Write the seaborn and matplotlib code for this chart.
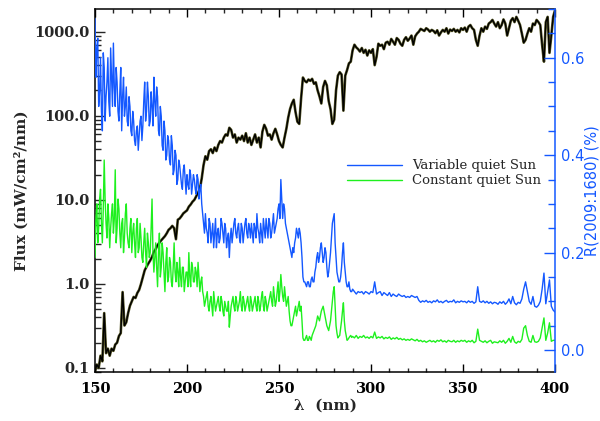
import numpy as np
import pandas as pd
import matplotlib
matplotlib.use("Agg")
import matplotlib.pyplot as plt
import seaborn as sns
from matplotlib.ticker import FixedLocator, MultipleLocator, LogLocator, NullFormatter

sns.set_style("ticks")
plt.rcParams['font.family'] = ['DejaVu Serif']

# wavelength grid (nm), 1 nm steps
wavelength = np.arange(150, 401)
# extra half-nm samples in the noisy short-wave part
wavelength_half = np.arange(150.5, 290.0, 1.0)

# solar flux (mW/cm^2/nm)
flux = [
    0.09, 0.11, 0.10, 0.14, 0.12, 0.45, 0.15, 0.17, 0.14, 0.17,
    0.16, 0.19, 0.20, 0.24, 0.26, 0.80, 0.32, 0.35, 0.45, 0.55,
    0.62, 0.70, 0.68, 0.78, 0.85, 1.00, 1.20, 1.45, 1.60, 1.75,
    1.90, 2.10, 2.40, 2.60, 2.90, 3.10, 3.30, 3.50, 3.70, 4.00,
    4.40, 4.60, 4.90, 4.60, 3.40, 5.80, 6.00, 6.40, 6.90, 7.20,
    7.50, 8.30, 8.80, 9.50, 10.0, 11.0, 12.2, 13.5, 18.0, 26.0,
    33, 30, 38, 40, 36, 42, 38, 45, 50, 48,
    55, 60, 58, 72, 68, 55, 60, 48, 55, 52,
    58, 50, 62, 48, 55, 45, 52, 60, 48, 55,
    42, 65, 78, 70, 58, 60, 52, 62, 70, 60,
    50, 45, 42, 55, 70, 95, 120, 140, 155, 110,
    85, 80, 160, 285, 260, 250, 270, 260, 275, 240,
    250, 200, 170, 140, 220, 260, 230, 150, 120, 80,
    90, 200, 300, 330, 310, 115, 300, 350, 420, 440,
    600, 700, 650, 620, 580, 640, 560, 610, 520, 600,
    560, 620, 400, 500, 720, 680, 700, 620, 740, 760,
    700, 820, 760, 700, 840, 800, 720, 680, 800, 860,
    780, 830, 900, 700, 880, 950, 1000, 1080, 1050, 1020,
    1100, 1060, 1000, 1050, 1020, 960, 1040, 900, 980, 1050,
    1000, 1100, 950, 1060, 1020, 1080, 1000, 1050, 980, 1100,
    1050, 1120, 1000, 1150, 1200, 1100, 1050, 800, 680, 900,
    1100, 1000, 1150, 1080, 1250, 1300, 1380, 1250, 1150, 1300,
    1100, 1200, 1400, 1250, 900, 1100, 1350, 1450, 1300, 1500,
    1350, 1200, 950, 740, 800, 950, 1100, 1000, 1250, 1200,
    1380, 1300, 1200, 700, 440, 1300, 1500, 560, 900, 1500,
    1800,
]

# R(2009:1680) (%), variable quiet Sun, at whole nm
variable_qs = [
    0.68, 0.62, 0.50, 0.60, 0.45, 0.58, 0.52, 0.60, 0.48, 0.56,
    0.63, 0.50, 0.55, 0.47, 0.58, 0.52, 0.48, 0.54, 0.46, 0.50,
    0.44, 0.47, 0.42, 0.46, 0.44, 0.48, 0.46, 0.55, 0.49, 0.52,
    0.47, 0.50, 0.56, 0.48, 0.52, 0.44, 0.48, 0.41, 0.45, 0.40,
    0.43, 0.38, 0.42, 0.37, 0.40, 0.35, 0.38, 0.34, 0.37, 0.35,
    0.36, 0.33, 0.36, 0.34, 0.35, 0.32, 0.35, 0.33, 0.30, 0.26,
    0.28, 0.24, 0.27, 0.22, 0.26, 0.24, 0.21, 0.25, 0.23, 0.26,
    0.22, 0.25, 0.23, 0.19, 0.25, 0.24, 0.27, 0.23, 0.26, 0.22,
    0.25, 0.24, 0.27, 0.23, 0.25, 0.26, 0.22, 0.25, 0.28, 0.24,
    0.26, 0.22, 0.25, 0.27, 0.23, 0.26, 0.24, 0.28, 0.25, 0.27,
    0.30, 0.35, 0.27, 0.29, 0.25, 0.23, 0.21, 0.19, 0.20, 0.23,
    0.24, 0.25, 0.22, 0.15, 0.14, 0.13, 0.14, 0.13, 0.15, 0.14,
    0.17, 0.20, 0.19, 0.22, 0.18, 0.21, 0.17, 0.16, 0.20, 0.26,
    0.28, 0.19, 0.15, 0.14, 0.17, 0.22, 0.16, 0.13, 0.14, 0.12,
    0.125, 0.12, 0.115, 0.12, 0.118, 0.12, 0.115, 0.12, 0.118, 0.115,
    0.12, 0.118, 0.14, 0.115, 0.118, 0.12, 0.112, 0.118, 0.115, 0.112,
    0.118, 0.11, 0.115, 0.112, 0.11, 0.115, 0.112, 0.11, 0.112, 0.108,
    0.11, 0.108, 0.112, 0.11, 0.108, 0.11, 0.102, 0.098, 0.101, 0.099,
    0.102, 0.098, 0.1, 0.097, 0.101, 0.099, 0.103, 0.098, 0.1, 0.097,
    0.1, 0.102, 0.098, 0.1, 0.099, 0.103, 0.097, 0.1, 0.098, 0.101,
    0.099, 0.1, 0.097, 0.101, 0.098, 0.1, 0.096, 0.099, 0.13, 0.1,
    0.098, 0.101, 0.097, 0.1, 0.096, 0.099, 0.095, 0.098, 0.097, 0.094,
    0.099, 0.096, 0.1, 0.094, 0.098, 0.105, 0.095, 0.11, 0.097, 0.093,
    0.098, 0.096, 0.105, 0.125, 0.14, 0.12, 0.1, 0.094, 0.11, 0.09,
    0.088, 0.092, 0.1, 0.125, 0.158, 0.095, 0.12, 0.144, 0.09, 0.082,
    0.078,
]

# variable quiet Sun, half-nm samples 150.5 ... 289.5
variable_qs_half = [
    0.56, 0.64, 0.53, 0.49, 0.61, 0.47, 0.55, 0.51, 0.62, 0.50,
    0.54, 0.58, 0.49, 0.53, 0.45, 0.56, 0.50, 0.47, 0.52, 0.45,
    0.49, 0.43, 0.45, 0.41, 0.47, 0.43, 0.51, 0.47, 0.55, 0.46,
    0.53, 0.46, 0.51, 0.54, 0.45, 0.50, 0.42, 0.47, 0.39, 0.44,
    0.39, 0.44, 0.36, 0.41, 0.34, 0.39, 0.36, 0.33, 0.38, 0.32,
    0.34, 0.37, 0.32, 0.36, 0.33, 0.36, 0.31, 0.34, 0.28, 0.24,
    0.25, 0.22, 0.26, 0.24, 0.21, 0.27, 0.24, 0.22, 0.27, 0.24,
    0.26, 0.21, 0.24, 0.23, 0.22, 0.26, 0.24, 0.25, 0.23, 0.26,
    0.22, 0.26, 0.24, 0.26, 0.23, 0.24, 0.26, 0.23, 0.25, 0.22,
    0.24, 0.27, 0.23, 0.25, 0.27, 0.23, 0.26, 0.24, 0.26, 0.29,
    0.27, 0.31, 0.30, 0.26, 0.24, 0.22, 0.20, 0.21, 0.22, 0.25,
    0.23, 0.24, 0.19, 0.14, 0.135, 0.14, 0.13, 0.145, 0.14, 0.16,
    0.19, 0.18, 0.21, 0.20, 0.19, 0.20, 0.15, 0.18, 0.23, 0.27,
    0.22, 0.16, 0.14, 0.15, 0.20, 0.18, 0.14, 0.13, 0.125, 0.12,
]

# R(2009:1680) (%), constant quiet Sun, at whole nm
constant_qs = [
    0.19, 0.30, 0.25, 0.33, 0.22, 0.39, 0.26, 0.30, 0.21, 0.28,
    0.24, 0.37, 0.25, 0.29, 0.21, 0.27, 0.23, 0.30, 0.22, 0.25,
    0.20, 0.26, 0.19, 0.27, 0.21, 0.23, 0.18, 0.25, 0.17, 0.22,
    0.20, 0.31, 0.16, 0.22, 0.13, 0.24, 0.17, 0.20, 0.12, 0.21,
    0.15, 0.18, 0.13, 0.22, 0.14, 0.16, 0.19, 0.13, 0.17, 0.14,
    0.16, 0.20, 0.13, 0.17, 0.14, 0.16, 0.18, 0.12, 0.15, 0.11,
    0.10, 0.12, 0.08, 0.11, 0.07, 0.10, 0.09, 0.11, 0.08, 0.10,
    0.07, 0.09, 0.08, 0.047, 0.09, 0.11, 0.08, 0.10, 0.09, 0.12,
    0.08, 0.10, 0.09, 0.11, 0.08, 0.10, 0.09, 0.11, 0.08, 0.10,
    0.09, 0.12, 0.08, 0.10, 0.09, 0.11, 0.10, 0.13, 0.09, 0.12,
    0.10, 0.155, 0.11, 0.13, 0.09, 0.11, 0.06, 0.05, 0.07, 0.09,
    0.08, 0.10, 0.09, 0.025, 0.02, 0.03, 0.02, 0.025, 0.03, 0.04,
    0.05, 0.07, 0.06, 0.08, 0.09, 0.07, 0.05, 0.04, 0.06, 0.10,
    0.13, 0.05, 0.025, 0.03, 0.06, 0.097, 0.04, 0.02, 0.025, 0.03,
    0.028, 0.025, 0.03, 0.024, 0.028, 0.026, 0.03, 0.025, 0.027, 0.024,
    0.028, 0.025, 0.037, 0.024, 0.027, 0.025, 0.028, 0.023, 0.026, 0.024,
    0.027, 0.022, 0.025, 0.023, 0.026, 0.022, 0.024, 0.021, 0.023, 0.02,
    0.022, 0.02, 0.023, 0.021, 0.019, 0.022, 0.018, 0.02, 0.017, 0.019,
    0.016, 0.018, 0.02, 0.017, 0.019, 0.016, 0.02, 0.018, 0.021, 0.017,
    0.019, 0.016, 0.02, 0.018, 0.017, 0.02, 0.016, 0.019, 0.017, 0.02,
    0.018, 0.02, 0.016, 0.019, 0.017, 0.02, 0.015, 0.018, 0.043, 0.02,
    0.018, 0.016, 0.019, 0.015, 0.018, 0.02, 0.014, 0.017, 0.016, 0.015,
    0.019, 0.016, 0.02, 0.014, 0.018, 0.024, 0.016, 0.028, 0.017, 0.014,
    0.018, 0.016, 0.022, 0.045, 0.05, 0.03, 0.018, 0.016, 0.03, 0.017,
    0.016, 0.018, 0.025, 0.045, 0.066, 0.02, 0.035, 0.056, 0.018, 0.02,
    0.02,
]

# constant quiet Sun, half-nm samples 150.5 ... 289.5
constant_qs_half = [
    0.27, 0.22, 0.31, 0.26, 0.29, 0.31, 0.23, 0.27, 0.25, 0.30,
    0.27, 0.22, 0.31, 0.24, 0.26, 0.20, 0.28, 0.24, 0.21, 0.27,
    0.24, 0.22, 0.25, 0.20, 0.26, 0.19, 0.22, 0.20, 0.24, 0.19,
    0.25, 0.20, 0.19, 0.17, 0.20, 0.15, 0.22, 0.16, 0.18, 0.14,
    0.19, 0.14, 0.17, 0.16, 0.18, 0.13, 0.15, 0.17, 0.12, 0.16,
    0.13, 0.15, 0.18, 0.14, 0.17, 0.13, 0.15, 0.14, 0.12, 0.09,
    0.11, 0.09, 0.10, 0.09, 0.12, 0.08, 0.10, 0.09, 0.11, 0.08,
    0.10, 0.08, 0.10, 0.07, 0.10, 0.09, 0.11, 0.08, 0.10, 0.09,
    0.11, 0.08, 0.10, 0.09, 0.11, 0.08, 0.10, 0.09, 0.11, 0.08,
    0.11, 0.09, 0.11, 0.08, 0.10, 0.12, 0.09, 0.11, 0.10, 0.14,
    0.12, 0.13, 0.10, 0.11, 0.10, 0.08, 0.05, 0.06, 0.08, 0.07,
    0.09, 0.08, 0.06, 0.02, 0.025, 0.02, 0.028, 0.02, 0.035, 0.045,
    0.06, 0.065, 0.07, 0.085, 0.08, 0.06, 0.045, 0.05, 0.08, 0.12,
    0.09, 0.035, 0.028, 0.045, 0.08, 0.06, 0.03, 0.022, 0.028, 0.026,
]

series_labels = ["Variable quiet Sun", "Constant quiet Sun"]
x_ticks = [150, 200, 250, 300, 350, 400]
left_ticks = [0.1, 1.0, 10.0, 100.0, 1000.0]
right_ticks = [0.0, 0.2, 0.4, 0.6]

df_flux = pd.DataFrame({"wl": wavelength, "flux": flux})
df_r = pd.concat([
    pd.DataFrame({"wl": wavelength, "var": variable_qs, "const": constant_qs}),
    pd.DataFrame({"wl": wavelength_half, "var": variable_qs_half, "const": constant_qs_half}),
]).sort_values("wl").reset_index(drop=True)

BLUE = "#1458ff"
GREEN = "#1ef01e"

fig = plt.figure(figsize=(6.0, 4.21), dpi=100)
ax = fig.add_axes([95/600, 1 - 372/421, 460/600, 363/421])

sns.lineplot(data=df_flux, x="wl", y="flux", ax=ax, color="#5a5a28", lw=1.9,
             estimator=None)
sns.lineplot(data=df_flux, x="wl", y="flux", ax=ax, color="black", lw=1.0,
             estimator=None)
ax.set_yscale("log")
ax.set_xlim(150, 400)
ax.set_ylim(0.0896, 1862)

ax2 = ax.twinx()
sns.lineplot(data=df_r, x="wl", y="var", ax=ax2, color=BLUE, lw=1.0,
             estimator=None, label=series_labels[0])
sns.lineplot(data=df_r, x="wl", y="const", ax=ax2, color=GREEN, lw=1.0,
             estimator=None, label=series_labels[1])
ax2.set_ylim(-0.045, 0.70)
ax2.set_xlim(150, 400)

serif_bold = dict(family="DejaVu Serif", weight="bold", size=10.5)

# x axis
ax.xaxis.set_major_locator(FixedLocator(x_ticks))
ax.xaxis.set_minor_locator(MultipleLocator(10))
ax.set_xticklabels([str(v) for v in x_ticks], fontdict=serif_bold)
ax.tick_params(axis="x", which="major", direction="in", length=6, width=1,
               top=True, bottom=True, pad=7, colors="black")
ax.tick_params(axis="x", which="minor", direction="in", length=3, width=1,
               top=True, bottom=True)

# left y axis
ax.yaxis.set_major_locator(FixedLocator(left_ticks))
ax.yaxis.set_minor_locator(LogLocator(base=10, subs=np.arange(2, 10)))
ax.yaxis.set_minor_formatter(NullFormatter())
ax.set_yticklabels([f"{v:.1f}" for v in left_ticks], fontdict=serif_bold)
ax.tick_params(axis="y", which="major", direction="in", length=7, width=1,
               left=True, right=False, pad=4)
ax.tick_params(axis="y", which="minor", direction="in", length=4, width=1,
               left=True, right=False)

ax.set_xlabel("λ  (nm)", fontdict=dict(family="DejaVu Serif", weight="bold", size=11),
              labelpad=2)
ax.set_ylabel("Flux (mW/cm²/nm)", fontdict=dict(family="DejaVu Serif", weight="bold", size=11),
              labelpad=4)

# right y axis
ax2.yaxis.set_major_locator(FixedLocator(right_ticks))
ax2.yaxis.set_minor_locator(MultipleLocator(0.05))
ax2.set_yticklabels([f"{v:.1f}" for v in right_ticks],
                    fontdict=dict(family="DejaVu Sans", size=10.5, color=BLUE))
ax2.tick_params(axis="y", which="major", direction="in", length=8, width=1,
                colors=BLUE, pad=4)
ax2.tick_params(axis="y", which="minor", direction="in", length=5, width=1,
                colors=BLUE)
ax2.set_ylabel("R(2009:1680) (%)", fontdict=dict(family="DejaVu Sans", size=10.5, color=BLUE),
               labelpad=0)
ax2.set_xlabel("")

for sp in ["left", "top", "bottom"]:
    ax.spines[sp].set_linewidth(1.1)
    ax.spines[sp].set_color("black")
    ax2.spines[sp].set_visible(False)
ax.spines["right"].set_visible(False)
ax2.spines["right"].set_color(BLUE)
ax2.spines["right"].set_linewidth(1.1)
ax2.spines["left"].set_visible(False)

leg = ax2.legend(loc="center left", bbox_to_anchor=(0.533, 0.547), frameon=False,
                 borderpad=0, handlelength=4.2, handletextpad=0.75, labelspacing=0.15,
                 prop=dict(family="DejaVu Serif", size=9.5))

fig.savefig("out.png", dpi=100)
